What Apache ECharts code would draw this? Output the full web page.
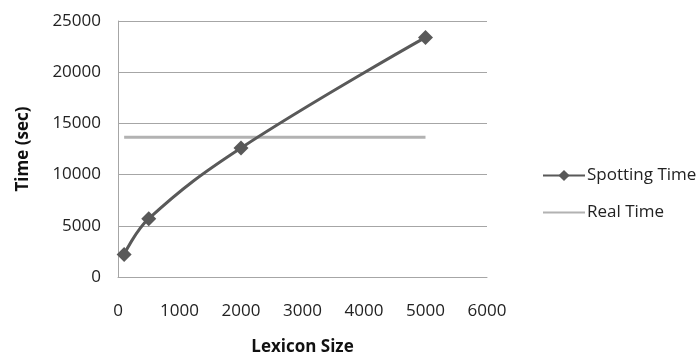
<!DOCTYPE html>
<html>
<head>
<meta charset="utf-8">
<script src="https://cdn.jsdelivr.net/npm/echarts@6/dist/echarts.min.js"></script>
<style>
  html, body { margin: 0; padding: 0; background: #fff; }
  #chart { width: 699px; height: 356px; }
</style>
</head>
<body>
<div id="chart"></div>
<script>
// Lexicon sizes and measured timings
const lexiconSizes = [100, 500, 2000, 5000];
const spottingTime = [2200, 5700, 12600, 23400];
const realTime = [13650, 13650, 13650, 13650];

const xTicks = [0, 1000, 2000, 3000, 4000, 5000, 6000];
const yTicks = [0, 5000, 10000, 15000, 20000, 25000];

const seriesNames = ['Spotting Time', 'Real Time'];

const FONT = '"Open Sans", "Noto Sans", sans-serif';
const plain = v => String(v);

const chart = echarts.init(document.getElementById('chart'), null, { renderer: 'canvas' });

chart.setOption({
  animation: false,
  backgroundColor: '#ffffff',
  grid: { left: 118, right: 212, top: 21, bottom: 79, containLabel: false, outerBoundsMode: 'none' },
  legend: {
    orient: 'vertical',
    left: 537,
    top: 162,
    itemWidth: 42,
    itemHeight: 14,
    itemGap: 20,
    textStyle: { fontFamily: FONT, fontSize: 17, color: '#222', padding: [0, 0, 0, -3] },
    data: [
      { name: seriesNames[0] },
      { name: seriesNames[1], itemStyle: { opacity: 0 } }
    ]
  },
  xAxis: {
    type: 'value',
    min: xTicks[0],
    max: xTicks[xTicks.length - 1],
    interval: 1000,
    name: 'Lexicon Size',
    nameLocation: 'middle',
    nameGap: 62,
    nameTextStyle: { fontFamily: FONT, fontSize: 17, fontWeight: 'bold', color: '#111' },
    axisLine: { show: true, lineStyle: { color: '#a6a6a6', width: 1 } },
    axisTick: { show: false },
    splitLine: { show: false },
    axisLabel: { margin: 26, fontFamily: FONT, fontSize: 17, color: '#222', formatter: plain }
  },
  yAxis: {
    type: 'value',
    min: yTicks[0],
    max: yTicks[yTicks.length - 1],
    interval: 5000,
    name: 'Time (sec)',
    nameLocation: 'middle',
    nameGap: 86,
    nameRotate: 90,
    nameTextStyle: { fontFamily: FONT, fontSize: 17, fontWeight: 'bold', color: '#111' },
    axisLine: { show: true, lineStyle: { color: '#a6a6a6', width: 1 } },
    axisTick: { show: false },
    splitLine: { show: true, lineStyle: { color: '#a6a6a6', width: 1 } },
    axisLabel: { margin: 17, fontFamily: FONT, fontSize: 17, color: '#222', formatter: plain }
  },
  series: [
    {
      name: seriesNames[0],
      type: 'line',
      smooth: 0.4,
      data: lexiconSizes.map((x, i) => [x, spottingTime[i]]),
      symbol: 'diamond',
      symbolSize: 15,
      showAllSymbol: true,
      lineStyle: { color: '#595959', width: 3 },
      itemStyle: { color: '#595959' },
      z: 3
    },
    {
      name: seriesNames[1],
      type: 'line',
      data: lexiconSizes.map((x, i) => [x, realTime[i]]),
      symbol: 'none',
      lineStyle: { color: '#b2b2b2', width: 3 },
      itemStyle: { color: '#b2b2b2' },
      z: 2
    }
  ]
});
</script>
</body>
</html>
